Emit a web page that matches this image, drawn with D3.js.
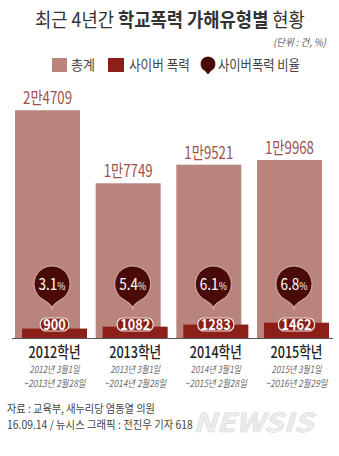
<!DOCTYPE html>
<html><head><meta charset="utf-8">
<script src="https://cdn.jsdelivr.net/npm/d3@7"></script>
<style>body{margin:0;background:#fff}svg{display:block}</style>
</head><body>
<svg id="c" width="339" height="456"></svg>
<script>
// ---- data ----
const years = ["2012학년","2013학년","2014학년","2015학년"];
const periodStart = ["2012년 3월1일","2013년 3월1일","2014년 3월1일","2015년 3월1일"];
const periodEnd = ["~2013년 2월28일","~2014년 2월28일","~2015년 2월28일","~2016년 2월29일"];
const totals = [24709,17749,19521,19968];
const totalLabels = ["2만4709","1만7749","1만9521","1만9968"];
const cyber = [900,1082,1283,1462];
const cyberRate = [3.1,5.4,6.1,6.8];
const legendLabels = ["총계","사이버 폭력","사이버폭력 비율"];

// ---- styles ----
const FONT = "'Noto Sans CJK KR','Noto Sans',sans-serif";
const C_TOTAL = "#b9847c", C_CYBER = "#8c2019", C_RATE = "#4a0b08";
const svg = d3.select("#c");
svg.append("rect").attr("width",339).attr("height",456).attr("fill","#fff");

function T(x, y, str, o={}) {
  const g = svg.append("g");
  const t = g.append("text")
    .attr("font-family", FONT)
    .attr("font-size", o.size||12)
    .attr("font-weight", o.weight||400)
    .attr("fill", o.fill||"#333")
    .attr("text-anchor", o.anchor||"start")
    .attr("font-style", o.italic ? "italic" : "normal");
  if (Array.isArray(str)) {
    str.forEach(s => t.append("tspan").text(s.t).attr("font-weight", s.w||null).attr("font-size", s.s||null));
  } else t.text(str);
  let k = o.k || 1;
  if (o.w) { const w = t.node().getComputedTextLength(); if (w>0) k = o.w / w; }
  g.attr("transform", `translate(${x},${y}) scale(${k},1)`);
  return {g, t, k};
}

// ---- title ----
T(170, 27, [{t:"최근 4년간 "},{t:"학교폭력 가해유형별",w:700},{t:" 현황"}], {size:19.5, anchor:"middle", fill:"#333", w:270});
T(326, 46, "(단위 : 건, %)", {size:10, anchor:"end", fill:"#555", italic:true, w:53});

// ---- legend ----
svg.append("rect").attr("x",52).attr("y",58).attr("width",15).attr("height",14).attr("fill",C_TOTAL);
T(71, 70, legendLabels[0], {size:13.5, fill:"#444", w:24});
svg.append("rect").attr("x",108).attr("y",58).attr("width",16).attr("height",14).attr("fill",C_CYBER);
T(129, 70, legendLabels[1], {size:13.5, fill:"#444", w:61});
function pinPath(cx, cy, r, tail) {
  const a1 = 115*Math.PI/180, a2 = 65*Math.PI/180;
  const p1 = [cx + r*Math.cos(a1), cy + r*Math.sin(a1)];
  const p2 = [cx + r*Math.cos(a2), cy + r*Math.sin(a2)];
  return `M${p2[0]},${p2[1]} A${r},${r} 0 1 0 ${p1[0]},${p1[1]} Q${cx-1.5},${cy+r+tail*0.4} ${cx},${cy+r+tail} Q${cx+1.5},${cy+r+tail*0.4} ${p2[0]},${p2[1]} Z`;
}
svg.append("path").attr("d", pinPath(208, 64, 7.5, 3)).attr("fill", C_RATE);
T(218, 70, legendLabels[2], {size:13.5, fill:"#444", w:82});

// ---- scales ----
const baseY = 338;
const x = d3.scaleBand().domain(years).range([15, 322]).paddingInner(0.194).paddingOuter(0);
const yTotal = d3.scaleLinear().domain([3000, 25000]).range([baseY, baseY - 230.8]);
const yCyber = d3.scaleLinear().domain([0, 1500]).range([baseY, baseY - 15.7]);
const bw = x.bandwidth();
const cyberOff = 7;

// total bars
svg.append("g").selectAll("rect").data(years).join("rect")
  .attr("x", d => x(d)).attr("width", bw)
  .attr("y", (d,i) => yTotal(totals[i]))
  .attr("height", (d,i) => baseY - yTotal(totals[i]))
  .attr("fill", C_TOTAL);

// total labels
years.forEach((d,i) => {
  T(x(d) + bw/2, yTotal(totals[i]) - 6, totalLabels[i], {size:17, fill:"#9e4f49", anchor:"middle", k:0.78});
});

// cyber bars
svg.append("g").selectAll("rect").data(years).join("rect")
  .attr("x", d => x(d) + cyberOff).attr("width", bw)
  .attr("y", (d,i) => yCyber(cyber[i]))
  .attr("height", (d,i) => baseY - yCyber(cyber[i]))
  .attr("fill", C_CYBER);

// cyber value pills
years.forEach((d,i) => {
  const cx = x(d) + cyberOff + bw/2;
  const g = svg.append("g");
  const tmp = T(cx, 330, String(cyber[i]), {size:15, weight:700, fill:"#fff", anchor:"middle", k:0.85});
  const w = tmp.t.node().getComputedTextLength() * tmp.k;
  g.append("rect").attr("x", cx - w/2 - 3).attr("y", 318).attr("width", w + 6).attr("height", 13)
    .attr("rx", 6).attr("fill", C_CYBER).attr("stroke", "#f4e4e0").attr("stroke-width", 1.2);
  svg.node().appendChild(tmp.g.node());
});

// rate bubbles
years.forEach((d,i) => {
  const cx = x(d) + bw/2 + 4.5, cy = 284;
  svg.append("path").attr("d", pinPath(cx, cy, 18, 5))
    .attr("fill", C_RATE).attr("stroke", "#e6c7c1").attr("stroke-width", 0.8);
  svg.append("line").attr("x1", cx).attr("x2", cx).attr("y1", cy+23).attr("y2", cy+26)
    .attr("stroke", "#e6c7c1").attr("stroke-width", 0.8);
  T(cx, cy + 5.5, [{t: d3.format(".1f")(cyberRate[i])}, {t:"%", s:10.5}], {size:16, fill:"#fff", anchor:"middle", k:0.85});
});

// baseline
svg.append("line").attr("x1", 12).attr("x2", 333).attr("y1", baseY + 0.5).attr("y2", baseY + 0.5)
  .attr("stroke", "#555").attr("stroke-width", 1);

// x labels
years.forEach((d,i) => {
  const cx = x(d) + cyberOff + bw/2;
  T(cx, 358, d, {size:16, weight:500, fill:"#222", anchor:"middle", w:52});
  T(cx, 372.5, periodStart[i], {size:9.8, fill:"#6a6a6a", anchor:"middle", italic:true, w:50});
  T(cx, 386.5, periodEnd[i], {size:9.8, fill:"#6a6a6a", anchor:"middle", italic:true, w:62});
});

// source
T(7, 412.5, "자료 : 교육부, 새누리당 염동열 의원", {size:11.3, fill:"#444", w:148});
T(7, 428.5, "16.09.14 / 뉴시스 그래픽 : 전진우 기자 618", {size:11.3, fill:"#444", w:186});
// watermark
T(193, 432, "NEWSIS", {size:26, weight:700, italic:true, fill:"#ececec", w:120}).t
  .attr("stroke", "#dcdcdc").attr("stroke-width", 0.6);
</script>
</body></html>
